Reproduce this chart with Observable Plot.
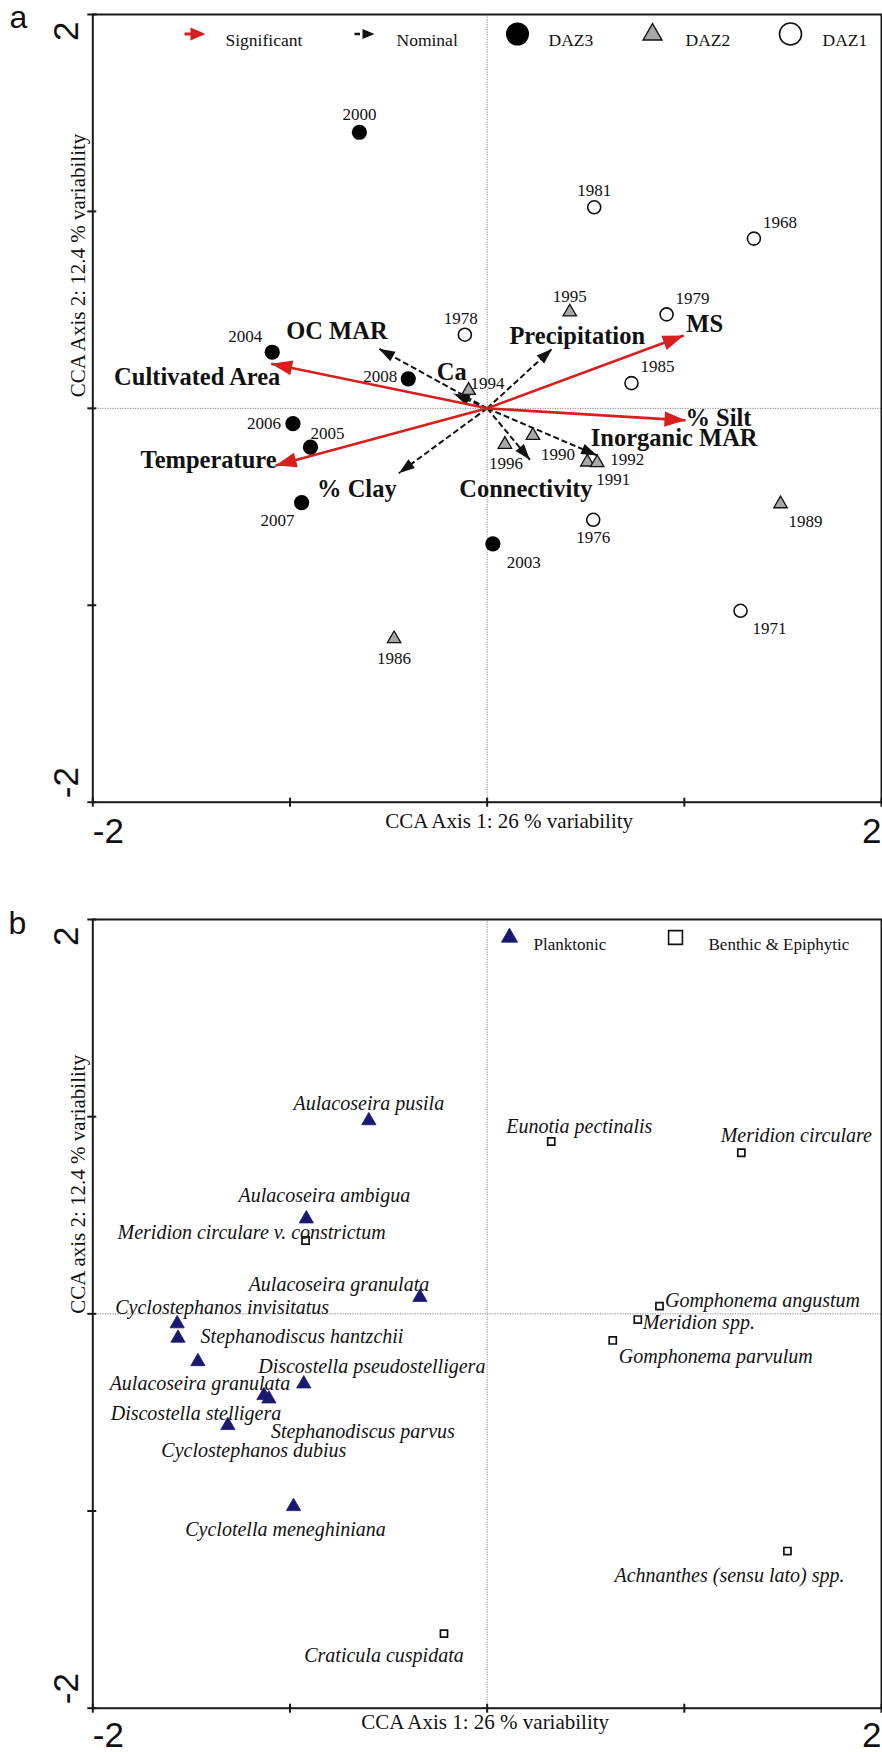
<!DOCTYPE html>
<html><head><meta charset="utf-8">
<script src="https://cdn.jsdelivr.net/npm/d3@7"></script>
<script src="https://cdn.jsdelivr.net/npm/@observablehq/plot@0.6"></script>
<style>
body{margin:0;background:#fff;}
#wrap{position:relative;width:882px;height:1752px;background:#fff;}
#pa{position:absolute;left:0;top:0;}
#pb{position:absolute;left:0;top:870px;}
</style></head>
<body><div id="wrap"><div id="pa"></div><div id="pb"></div></div>
<script>
// ---------- DATA: panel a (samples) ----------
const siteYears = ["2000","2004","2008","2006","2005","2007","2003",
  "1994","1995","1996","1990","1991","1992","1989","1986",
  "1978","1981","1968","1979","1985","1976","1971"];
const siteAxis1 = [-0.648,-1.090,-0.400,-0.985,-0.896,-0.941,0.029,
  -0.094,0.419,0.090,0.232,0.508,0.558,1.488,-0.472,
  -0.113,0.543,1.353,0.910,0.732,0.538,1.285];
const siteAxis2 = [1.402,0.285,0.150,-0.078,-0.197,-0.479,-0.688,
  0.091,0.489,-0.183,-0.138,-0.273,-0.276,-0.485,-1.170,
  0.374,1.021,0.862,0.477,0.128,-0.566,-1.028];
const siteZone = ["DAZ3","DAZ3","DAZ3","DAZ3","DAZ3","DAZ3","DAZ3",
  "DAZ2","DAZ2","DAZ2","DAZ2","DAZ2","DAZ2","DAZ2","DAZ2",
  "DAZ1","DAZ1","DAZ1","DAZ1","DAZ1","DAZ1","DAZ1"];

// ---------- DATA: panel a (environmental vectors) ----------
const envNames = ["Cultivated Area","Temperature","MS","% Silt",
  "OC MAR","Ca","% Clay","Precipitation","Inorganic MAR","Connectivity"];
const envAxis1 = [-1.095,-1.073,0.997,1.006,-0.549,-0.169,-0.448,0.330,0.558,0.217];
const envAxis2 = [0.227,-0.290,0.370,-0.061,0.303,0.074,-0.329,0.303,-0.239,-0.261];
const envSignificance = ["Significant","Significant","Significant","Significant",
  "Nominal","Nominal","Nominal","Nominal","Nominal","Nominal"];

// ---------- DATA: panel b (taxa) ----------
const taxaNames = ["Aulacoseira pusila","Aulacoseira ambigua","Aulacoseira granulata",
  "Cyclostephanos invisitatus","Stephanodiscus hantzchii","Aulacoseira granulata",
  "Discostella pseudostelligera","Discostella stelligera","Stephanodiscus parvus",
  "Cyclostephanos dubius","Cyclotella meneghiniana",
  "Meridion circulare v. constrictum","Eunotia pectinalis","Meridion circulare",
  "Gomphonema angustum","Meridion spp.","Gomphonema parvulum",
  "Achnanthes (sensu lato) spp.","Craticula cuspidata"];
const taxaAxis1 = [-0.600,-0.917,-0.341,-1.572,-1.568,-1.467,-0.930,-1.132,-1.107,-1.315,-0.982,
  -0.921,0.325,1.289,0.874,0.764,0.637,1.523,-0.219];
const taxaAxis2 = [0.980,0.482,0.084,-0.050,-0.123,-0.242,-0.355,-0.414,-0.431,-0.566,-0.977,
  0.372,0.874,0.817,0.039,-0.029,-0.135,-1.203,-1.622];
const taxaHabit = ["Planktonic","Planktonic","Planktonic","Planktonic","Planktonic","Planktonic",
  "Planktonic","Planktonic","Planktonic","Planktonic","Planktonic",
  "Benthic & Epiphytic","Benthic & Epiphytic","Benthic & Epiphytic","Benthic & Epiphytic",
  "Benthic & Epiphytic","Benthic & Epiphytic","Benthic & Epiphytic","Benthic & Epiphytic"];

// ---------- axis text ----------
const axisRange = [-2, 2];
const tickValues = [-2, -1, 0, 1, 2];
const tickLabels = ["-2", "2"];
const xTitle = "CCA Axis 1: 26 % variability";
const yTitleA = "CCA Axis 2: 12.4 % variability";
const yTitleB = "CCA axis 2: 12.4 % variability";

// ---------- layout (pixel label offsets) ----------
const yearLabelOffsets = [[0,-18],[-27,-16],[-28,-2],[-29,0],[17,-14],[-24,18],[31,19],
  [19,-7],[0,-16],[1,19],[25,19],[26,17],[30,-3],[25,18],[0,20],
  [-4,-16],[0,-17],[26,-16],[26,-16],[26,-17],[0,18],[29,18]];
const envLabelOffsets = [[-74,14],[-67,-5],[21,-11],[33,-2],[-42,-18],[-2,-22],[-42,16],[25,-13],[77,-17],[-4,29]];
const taxaLabelOffsets = [[0,-17],[18,-23],[-81,-13],[45,-16],[124,-2],[2,22],[68,-17],[-68,18],[94,33],[26,25],[-8,23],
  [-54,-8],[28,-15],[55,-17],[103,-6],[61,3],[103,16],[-58,25],[-60,22]];

const SERIF = "'Liberation Serif','Times New Roman',serif";
const SANS = "'Liberation Sans',Arial,Helvetica,sans-serif";
const RED = "#d81f1f";
const INK = "#111";
const NAVY = "#191970";

const sites = siteYears.map((year, i) => ({year, x: siteAxis1[i], y: siteAxis2[i], zone: siteZone[i]}));
const env = envNames.map((name, i) => ({name, x: envAxis1[i], y: envAxis2[i], sig: envSignificance[i]}));
const taxa = taxaNames.map((name, i) => ({name, x: taxaAxis1[i], y: taxaAxis2[i], habit: taxaHabit[i]}));

// arrow head symbol (points up, tip at origin)
function head(ratio) {
  return {draw(ctx, size) {
    const L = Math.sqrt(size / Math.PI), w = L * ratio;
    ctx.moveTo(0, 0); ctx.lineTo(w, L); ctx.lineTo(-w, L); ctx.closePath();
  }};
}
// legend arrow symbol (points right, tip at origin)
function legendArrow(headL, headW, gap, stub, stubW) {
  return {draw(ctx) {
    ctx.moveTo(0, 0); ctx.lineTo(-headL, -headW); ctx.lineTo(-headL, headW); ctx.closePath();
    const s = -headL - gap;
    ctx.moveTo(s + 0.5, -stubW); ctx.lineTo(s - stub, -stubW); ctx.lineTo(s - stub, stubW); ctx.lineTo(s + 0.5, stubW); ctx.closePath();
  }};
}
const angle = d => Math.atan2(d.x, d.y) * 180 / Math.PI;

function frameMarks(yTitle, yTitleDy, xTitleDx, xTitleDy, tickDy) {
  return [
    Plot.ruleX([0], {stroke: "#8c8c8c", strokeWidth: 1, strokeDasharray: "1.3,1.2"}),
    Plot.ruleY([0], {stroke: "#8c8c8c", strokeWidth: 1, strokeDasharray: "1.3,1.2"}),
    Plot.frame({stroke: "#1a1a1a", strokeWidth: 2}),
    Plot.ruleX(tickValues, {x: d => d, y1: () => -2, y2: () => -2, insetTop: -4, insetBottom: -5, stroke: "#1a1a1a", strokeWidth: 2}),
    Plot.ruleY(tickValues, {y: d => d, x1: () => -2, x2: () => -2, insetLeft: -5, insetRight: -4, stroke: "#1a1a1a", strokeWidth: 2}),
    // x tick labels
    Plot.text([tickLabels[0]], {x: () => axisRange[0], text: d => d, frameAnchor: "bottom", textAnchor: "start", lineAnchor: "bottom", dy: tickDy, fontFamily: SANS, fontSize: 35, fill: INK}),
    Plot.text([tickLabels[1]], {x: () => axisRange[1], text: d => d, frameAnchor: "bottom", textAnchor: "end", lineAnchor: "bottom", dy: tickDy, fontFamily: SANS, fontSize: 35, fill: INK}),
    // y tick labels (rotated)
    Plot.text([tickLabels[1]], {y: () => axisRange[1], text: d => d, frameAnchor: "left", rotate: -90, textAnchor: "end", lineAnchor: "bottom", dx: -15, dy: 7, fontFamily: SANS, fontSize: 35, fill: INK}),
    Plot.text([tickLabels[0]], {y: () => axisRange[0], text: d => d, frameAnchor: "left", rotate: -90, textAnchor: "start", lineAnchor: "bottom", dx: -15, dy: -4, fontFamily: SANS, fontSize: 35, fill: INK}),
    // axis titles
    Plot.text([xTitle], {text: d => d, frameAnchor: "bottom", lineAnchor: "bottom", dx: xTitleDx, dy: xTitleDy, fontFamily: SERIF, fontSize: 21, fill: INK}),
    Plot.text([yTitle], {text: d => d, frameAnchor: "left", rotate: -90, lineAnchor: "bottom", dx: -8, dy: yTitleDy, fontFamily: SERIF, fontSize: 21, fill: INK})
  ];
}

function legendMark(mark, data, px, py, left, top, opts) {
  return mark(data, {frameAnchor: "top-left", dx: px - left, dy: py - top, ...opts});
}

// ---------- PANEL A ----------
const LA = 92.3, TA = 14;
const sig = env.filter(d => d.sig === "Significant");
const nom = env.filter(d => d.sig === "Nominal");
const legendTextA = {text: d => d, textAnchor: "start", fontFamily: SERIF, fontSize: 17.5, fill: INK};

const plotA = Plot.plot({
  width: 882, height: 870,
  marginLeft: LA, marginRight: 1, marginTop: TA, marginBottom: 68.3,
  x: {domain: axisRange, axis: null},
  y: {domain: axisRange, axis: null},
  style: {fontFamily: SERIF, background: "white", color: INK, overflow: "visible"},
  marks: [
    ...frameMarks(yTitleA, -11, 22, 26, 41),
    Plot.text(["a"], {text: d => d, frameAnchor: "top-left", textAnchor: "start", lineAnchor: "bottom", dx: 9 - LA, dy: 13, fontFamily: SANS, fontSize: 32, fill: INK}),
    // environmental vectors
    Plot.link(nom, {x1: () => 0, y1: () => 0, x2: "x", y2: "y", stroke: INK, strokeWidth: 2, strokeDasharray: "6,3"}),
    Plot.dot(nom, {x: "x", y: "y", symbol: head(0.34), r: 16, fill: INK, stroke: "none", rotate: angle}),
    Plot.link(sig, {x1: () => 0, y1: () => 0, x2: "x", y2: "y", stroke: RED, strokeWidth: 2.6}),
    Plot.dot(sig, {x: "x", y: "y", symbol: head(0.36), r: 21, fill: RED, stroke: "none", rotate: angle}),
    // samples
    Plot.dot(sites.filter(d => d.zone === "DAZ3"), {x: "x", y: "y", r: 7.6, fill: "#000"}),
    Plot.dot(sites.filter(d => d.zone === "DAZ2"), {x: "x", y: "y", symbol: "triangle", r: 5, fill: "#a8a8a8", stroke: INK, strokeWidth: 1.3}),
    Plot.dot(sites.filter(d => d.zone === "DAZ1"), {x: "x", y: "y", r: 6.5, fill: "white", stroke: INK, strokeWidth: 1.6}),
    ...sites.map((d, i) => Plot.text([d], {x: "x", y: "y", text: "year", dx: yearLabelOffsets[i][0], dy: yearLabelOffsets[i][1], fontSize: 17, fill: INK})),
    ...env.map((d, i) => Plot.text([d], {x: "x", y: "y", text: "name", dx: envLabelOffsets[i][0], dy: envLabelOffsets[i][1], fontSize: 24.5, fontWeight: "bold", fill: INK})),
    // legend
    legendMark(Plot.dot, [0], 205, 33.5, LA, TA, {symbol: legendArrow(15, 6.5, 0, 6, 1.4), r: 10, fill: RED, stroke: "none"}),
    legendMark(Plot.text, ["Significant"], 225, 33.5, LA, TA, legendTextA),
    legendMark(Plot.dot, [0], 374, 33.5, LA, TA, {symbol: legendArrow(12, 5, 3, 5, 1.2), r: 10, fill: INK, stroke: "none"}),
    legendMark(Plot.text, ["Nominal"], 396, 33.5, LA, TA, legendTextA),
    legendMark(Plot.dot, [0], 517, 33.5, LA, TA, {r: 11.5, fill: "#000"}),
    legendMark(Plot.text, ["DAZ3"], 548, 33.5, LA, TA, legendTextA),
    legendMark(Plot.dot, [0], 652, 34, LA, TA, {symbol: "triangle", r: 7, fill: "#a8a8a8", stroke: INK, strokeWidth: 1.4}),
    legendMark(Plot.text, ["DAZ2"], 685, 33.5, LA, TA, legendTextA),
    legendMark(Plot.dot, [0], 790, 33.5, LA, TA, {r: 11, fill: "white", stroke: INK, strokeWidth: 1.6}),
    legendMark(Plot.text, ["DAZ1"], 822, 33.5, LA, TA, legendTextA)
  ]
});
document.getElementById("pa").append(plotA);

// ---------- PANEL B ----------
const LB = 92.3, TB = 49; // frame top at absolute 919
const legendTextB = {text: d => d, textAnchor: "start", fontFamily: SERIF, fontSize: 17, fill: INK};
const plotB = Plot.plot({
  width: 882, height: 882,
  marginLeft: LB, marginRight: 1, marginTop: TB, marginBottom: 44.3,
  x: {domain: axisRange, axis: null},
  y: {domain: axisRange, axis: null},
  style: {fontFamily: SERIF, background: "white", color: INK, overflow: "visible"},
  marks: [
    ...frameMarks(yTitleB, 0, -2, 21, 39),
    Plot.text(["b"], {text: d => d, frameAnchor: "top-left", textAnchor: "start", lineAnchor: "bottom", dx: 8 - LB, dy: 14, fontFamily: SANS, fontSize: 32, fill: INK}),
    Plot.dot(taxa.filter(d => d.habit === "Planktonic"), {x: "x", y: "y", symbol: "triangle", r: 5.3, fill: NAVY, stroke: NAVY, strokeWidth: 0.8}),
    Plot.dot(taxa.filter(d => d.habit !== "Planktonic"), {x: "x", y: "y", symbol: "square", r: 4, fill: "white", stroke: INK, strokeWidth: 1.7}),
    ...taxa.map((d, i) => Plot.text([d], {x: "x", y: "y", text: "name", dx: taxaLabelOffsets[i][0], dy: taxaLabelOffsets[i][1], fontSize: 20, fontStyle: "italic", fill: INK})),
    legendMark(Plot.dot, [0], 509, 937 - 870, LB, TB, {symbol: "triangle", r: 6, fill: NAVY, stroke: NAVY, strokeWidth: 0.8}),
    legendMark(Plot.text, ["Planktonic"], 533, 937 - 870, LB, TB, legendTextB),
    legendMark(Plot.dot, [0], 675, 937 - 870, LB, TB, {symbol: "square", r: 7.8, fill: "white", stroke: INK, strokeWidth: 1.6}),
    legendMark(Plot.text, ["Benthic & Epiphytic"], 708, 937 - 870, LB, TB, legendTextB)
  ]
});
document.getElementById("pb").append(plotB);
</script>
</body></html>
